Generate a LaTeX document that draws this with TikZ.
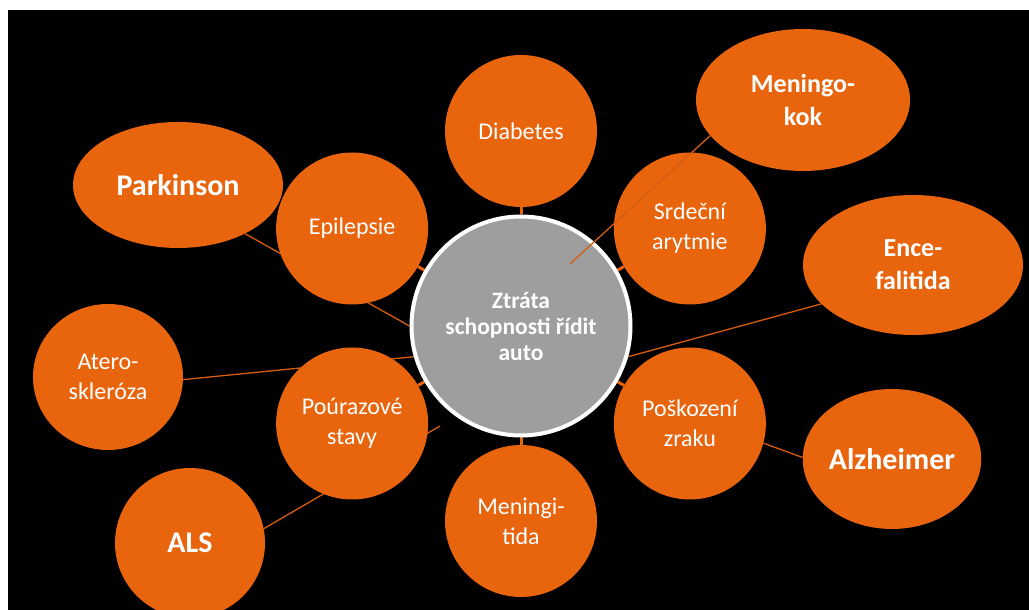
\documentclass[tikz,border=0pt]{standalone}
\usepackage{fontspec}
\setmainfont{Carlito}
\usetikzlibrary{shapes.geometric,backgrounds}
\definecolor{burnt}{RGB}{232,101,14}
\definecolor{hubgray}{RGB}{158,158,158}
\definecolor{wire}{RGB}{214,92,14}

\begin{document}
\begin{tikzpicture}[x=1pt, y=1pt,
  hub/.style={circle, draw=white, line width=4pt, fill=hubgray, minimum size=219pt, align=center, text=white, font=\fontsize{23.5}{26}\selectfont\bfseries},
  cause/.style={circle, fill=burnt, minimum size=152pt, align=center, text=white, font=\fontsize{24}{30}\selectfont},
  extra/.style={ellipse, fill=burnt, inner sep=0pt, align=center, text=white, font=\fontsize{26}{33}\selectfont\bfseries},
  link/.style={wire, line width=1.3pt},
  stub/.style={burnt, line width=3pt}]
  \useasboundingbox (0,0) rectangle (1029,610);

  % centre and first ring
  \node[hub] (main) at (521,284) {Ztráta\\schopnosti řídit\\auto};
  \node[cause] (diab) at ([shift={(90:195)}]main.center) {Diabetes};
  \node[cause] (srdce) at ([shift={(30:195)}]main.center) {Srdeční\\arytmie};
  \node[cause] (zrak) at ([shift={(-30:195)}]main.center) {Poškození\\zraku};
  \node[cause] (mgt) at ([shift={(-90:195)}]main.center) {Meningi-\\tida};
  \node[cause] (uraz) at ([shift={(-150:195)}]main.center) {Poúrazové\\stavy};
  \node[cause] (epi) at ([shift={(150:195)}]main.center) {Epilepsie};

  % outer ring
  \node[extra, minimum width=210pt, minimum height=126pt, font=\fontsize{30}{33}\selectfont\bfseries] (park) at (178,425) {Parkinson};
  \node[extra, minimum width=214pt, minimum height=142pt] (mkok) at (803,510) {Meningo-\\kok};
  \node[extra, minimum width=220pt, minimum height=140pt] (enc) at (913,345) {Ence-\\falitida};
  \node[extra, minimum width=174pt, minimum height=140pt, font=\fontsize{30}{33}\selectfont\bfseries] (alz) at (892,151) {Alzheimer};
  \node[extra, minimum width=150pt, minimum height=146pt, font=\fontsize{24}{30}\selectfont] (ater) at (108,233) {Atero-\\skleróza};
  \node[extra, minimum width=150pt, minimum height=150pt, font=\fontsize{30}{33}\selectfont\bfseries] (als) at (190,67) {ALS};

  \coordinate (mkend) at (570,346);
  \coordinate (alsend) at (440,184);

  \begin{scope}[on background layer]
    \fill[black] (8,0) rectangle (1029,600);
    \draw[link] (park.-36) -- (main.180.5);
    \draw[link] (ater.-2) -- (main.196);
    \draw[link] (als.11.6) -- (alsend);
    \draw[link] (enc.203.7) -- (main.-16);
    \draw[link] (zrak.-15) -- (alz.179);
    \foreach \c in {diab,srdce,zrak,mgt,uraz,epi}
      \draw[stub] (main) -- (\c);
  \end{scope}
  \draw[link] (mkok.201.7) -- (mkend);
\end{tikzpicture}
\end{document}
